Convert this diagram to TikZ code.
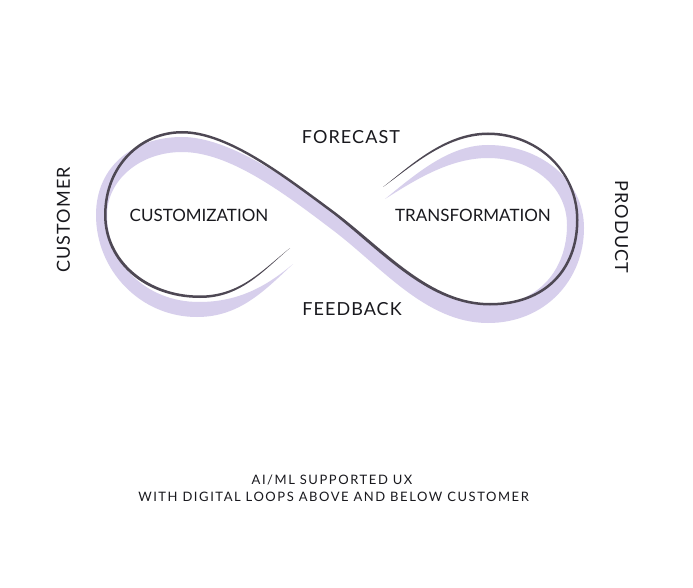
\documentclass[tikz,border=0pt]{standalone}
\usepackage{fontspec}
\setmainfont{Lato}
\usetikzlibrary{calc}
\definecolor{ribbon}{RGB}{215,207,236}
\definecolor{inkline}{RGB}{78,72,84}
\definecolor{labeltext}{RGB}{25,25,30}
\tikzset{
  looplabel/.style={text=labeltext, inner sep=0pt, font=\fontsize{18}{20}\selectfont\addfontfeatures{LetterSpace=6}},
  innerlabel/.style={text=labeltext, inner sep=0pt, font=\fontsize{17}{19}\selectfont},
  sidelabel/.style={text=labeltext, inner sep=0pt, font=\fontsize{18}{20}\selectfont\addfontfeatures{LetterSpace=6}},
  captionline/.style={text=labeltext, inner sep=0pt, font=\fontsize{13}{15}\selectfont\addfontfeatures{LetterSpace=12}},
}
\begin{document}
\begin{tikzpicture}[x=1pt,y=-1pt]
\useasboundingbox[fill=white] (0,0) rectangle (693,588);

% lavender ribbon of the figure eight, tapering at both ends
\fill[ribbon]
  (293,264) .. controls (265,290) and (240,317) .. (197,317)
  .. controls (140,317) and (96,270) .. (96,215)
  .. controls (96,165) and (135,137) .. (182,137)
  .. controls (228,137) and (287,178) .. (337,214)
  .. controls (387,252) and (432,305) .. (488,305)
  .. controls (540,305) and (567,268) .. (567,225)
  .. controls (567,185) and (530,158) .. (488,158)
  .. controls (450,158) and (415,180) .. (385,199)
  .. controls (418,172) and (450,145) .. (488,145)
  .. controls (540,145) and (584,180) .. (584,228)
  .. controls (584,280) and (545,323) .. (488,323)
  .. controls (425,323) and (380,265) .. (330,228)
  .. controls (280,190) and (228,152) .. (182,152)
  .. controls (140,152) and (107,180) .. (107,215)
  .. controls (107,262) and (145,302) .. (199,302)
  .. controls (240,302) and (268,285) .. (293,264) -- cycle;

% dark pen stroke, thin at its two ends
\fill[inkline]
  (290,248) .. controls (262,272) and (240,298) .. (200,298)
  .. controls (145,298) and (104,262) .. (104,215)
  .. controls (104,165) and (140,131) .. (182,131)
  .. controls (228,131) and (285,175) .. (335,212)
  .. controls (385,250) and (430,303) .. (490,303)
  .. controls (545,303) and (576,268) .. (576,220)
  .. controls (576,170) and (535,135) .. (488,135)
  .. controls (445,135) and (410,168) .. (383,187)
  .. controls (410,166) and (445,132.5) .. (488,132.5)
  .. controls (537,132.5) and (578.5,170) .. (578.5,220)
  .. controls (578.5,270) and (546,305.5) .. (490,305.5)
  .. controls (429,305.5) and (383,253) .. (333.5,214)
  .. controls (284,177.5) and (228,133.5) .. (182,133.5)
  .. controls (142,133.5) and (106.5,166) .. (106.5,215)
  .. controls (106.5,260) and (147,295.5) .. (200,295.5)
  .. controls (240,295.5) and (262,270.5) .. (290,248) -- cycle;

% labels
\node[looplabel] (forecast) at (351,137) {FORECAST};
\node[looplabel] (feedback) at (352,309) {FEEDBACK};
\node[innerlabel] (customization) at (199,215) {CUSTOMIZATION};
\node[innerlabel] (transformation) at (473,215) {TRANSFORMATION};
\node[sidelabel, rotate=90] (customer) at (63.5,220) {CUSTOMER};
\node[sidelabel, rotate=-90] (product) at (621.5,227) {PRODUCT};
\node[captionline] (caption1) at (332,480) {AI/ML SUPPORTED UX};
\node[captionline] (caption2) at (333.5,497) {WITH DIGITAL LOOPS ABOVE AND BELOW CUSTOMER};
\end{tikzpicture}
\end{document}
